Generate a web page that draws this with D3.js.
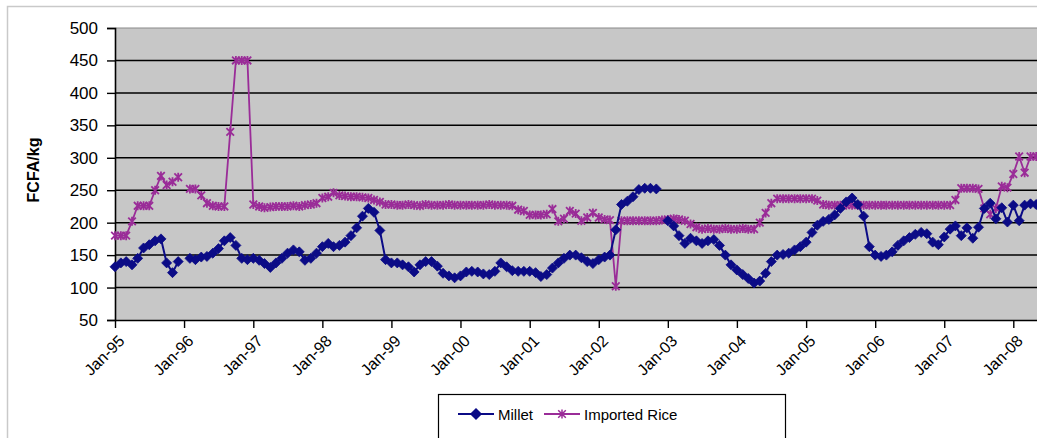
<!DOCTYPE html>
<html>
<head>
<meta charset="utf-8">
<script src="https://cdn.jsdelivr.net/npm/d3@7"></script>
<style>
  html, body { margin: 0; padding: 0; background: #fff; }
  svg { display: block; font-family: "Liberation Sans", Arial, sans-serif; }
</style>
</head>
<body>
<svg id="chart" width="1037" height="438"></svg>
<script>
// Monthly retail prices (FCFA/kg), starting January 1995; null = no observation
const firstYear = 1995;
const milletPrices = [
  132, 138, 140, 135, 145, 161, 166, 172, 175, 138, 123, 140,
  null, 145, 143, 147, 148, 153, 160, 172, 177, 165, 145, 143,
  145, 142, 137, 131, 138, 145, 153, 158, 155, 142, 145, 153,
  163, 168, 163, 165, 170, 180, 192, 210, 222, 216, 188, 143,
  138, 138, 135, 132, 124, 135, 140, 140, 133, 122, 118, 115,
  118, 124, 125, 124, 121, 120, 125, 138, 132, 126, 125, 125,
  125, 123, 117, 120, 130, 138, 145, 150, 150, 146, 140, 137,
  143, 147, 150, 189, 228, 233, 240, 251, 253, 253, 252, null,
  203, 195, 180, 168, 176, 172, 168, 172, 174, 165, 150, 135,
  127, 120, 114, 107, 110, 122, 140, 150, 151, 153, 158, 163,
  170, 185, 196, 202, 205, 212, 222, 232, 238, 228, 210, 163,
  150, 148, 150, 155, 165, 172, 177, 182, 185, 183, 170, 166,
  178, 190, 195, 180, 192, 176, 193, 222, 230, 206, 223, 201,
  227, 203, 227, 229, 228
];
const ricePrices = [
  180, 180, 180, 202, 226, 226, 226, 250, 272, 258, 263, 270,
  null, 252, 252, 242, 230, 226, 225, 225, 340, 450, 450, 450,
  228, 225, 223, 224, 225, 225, 225, 226, 225, 227, 228, 230,
  238, 240, 246, 242, 241, 240, 240, 239, 238, 235, 232, 228,
  228, 227, 227, 228, 227, 226, 228, 227, 227, 227, 228, 227,
  227, 227, 227, 227, 227, 228, 227, 227, 227, 226, 220, 218,
  212, 212, 212, 213, 221, 202, 206, 218, 214, 203, 208, 215,
  208, 205, 204, 102, 203, 203, 203, 203, 203, 203, 203, 204,
  205, 206, 205, 203, 198, 193, 190, 191, 190, 190, 191, 190,
  190, 191, 190, 190, 200, 215, 230, 237, 237, 237, 237, 237,
  237, 237, 234, 228, 227, 227, 227, 227, 227, 227, 227, 227,
  227, 227, 227, 227, 227, 227, 227, 227, 227, 227, 227, 227,
  227, 227, 235, 253, 253, 253, 252, 222, 213, 222, 256, 254,
  275, 302, 277, 302, 302
];
const yTickValues = [50, 100, 150, 200, 250, 300, 350, 400, 450, 500];
const yearTicks = [1995, 1996, 1997, 1998, 1999, 2000, 2001, 2002, 2003, 2004, 2005, 2006, 2007, 2008];
const seriesNames = ["Millet", "Imported Rice"];
const axisTitle = "FCFA/kg";

const milletColor = "#0b0b86";
const riceColor = "#9a2c98";
const font = '"Liberation Sans", Arial, sans-serif';

const svg = d3.select("#chart");
const W = 1037, H = 438;

// chart area frame
svg.append("rect").attr("x", 0).attr("y", 0).attr("width", W).attr("height", H).attr("fill", "#fff");
svg.append("path").attr("d", `M7.5,${H}V6.5H${W}`).attr("fill", "none").attr("stroke", "#c9c9c9").attr("stroke-width", 1.5);

const plot = { left: 115, top: 28, right: 1050, bottom: 320 };

const months = milletPrices.map((_, i) => new Date(firstYear, i, 1));
const x = d3.scaleTime()
  .domain([new Date(1995, 0, 1), new Date(2008, 0, 1)])
  .range([115, 1013.3]);
const y = d3.scaleLinear().domain([50, 500]).range([plot.bottom, plot.top]);

// plot area
svg.append("rect")
  .attr("x", plot.left).attr("y", plot.top)
  .attr("width", plot.right - plot.left).attr("height", plot.bottom - plot.top)
  .attr("fill", "#c7c7c7");

// horizontal gridlines
svg.append("g").selectAll("line")
  .data(yTickValues.filter(v => v > 50 && v < 500))
  .join("line")
  .attr("x1", plot.left).attr("x2", plot.right)
  .attr("y1", d => y(d)).attr("y2", d => y(d))
  .attr("stroke", "#000").attr("stroke-width", 1.5);

// plot area top border
svg.append("line")
  .attr("x1", plot.left).attr("x2", plot.right)
  .attr("y1", plot.top).attr("y2", plot.top)
  .attr("stroke", "#8a8a8a").attr("stroke-width", 1.2);

// y axis
const yAxis = d3.axisLeft(y).tickValues(yTickValues).tickSize(8).tickPadding(9).tickFormat(d3.format("d"));
const gy = svg.append("g").attr("transform", `translate(${plot.left},0)`).call(yAxis);
gy.select(".domain").attr("stroke", "#000").attr("stroke-width", 1.6);
gy.selectAll(".tick line").attr("stroke", "#000").attr("stroke-width", 1.4);
gy.selectAll(".tick text").attr("fill", "#000").style("font-size", "17px").style("font-family", font);

// x axis
const xAxis = d3.axisBottom(x)
  .tickValues(yearTicks.map(yr => new Date(yr, 0, 1)))
  .tickSize(8)
  .tickFormat(d3.timeFormat("%b-%y"));
const gx = svg.append("g").attr("transform", `translate(0,${plot.bottom})`).call(xAxis);
gx.select(".domain").attr("d", `M${plot.left},0.5H${plot.right}`).attr("stroke", "#000").attr("stroke-width", 1.6);
gx.selectAll(".tick line").attr("stroke", "#000").attr("stroke-width", 1.4);
gx.selectAll(".tick text")
  .attr("fill", "#000")
  .style("font-size", "16px")
  .style("font-family", font)
  .attr("text-anchor", "end")
  .attr("dy", null)
  .attr("y", 0)
  .attr("transform", "translate(10,22) rotate(-45)");

// y axis title
svg.append("text")
  .attr("transform", "translate(39,170) rotate(-90)")
  .attr("text-anchor", "middle")
  .style("font-size", "16px")
  .style("font-weight", "bold")
  .style("font-family", font)
  .attr("fill", "#000")
  .text(axisTitle);

// series
svg.append("clipPath").attr("id", "plotclip")
  .append("rect").attr("x", plot.left - 6).attr("y", plot.top - 8)
  .attr("width", plot.right - plot.left + 12).attr("height", plot.bottom - plot.top + 12);

const line = d3.line()
  .defined(d => d.v != null)
  .x(d => x(d.date))
  .y(d => y(d.v));

const milletData = milletPrices.map((v, i) => ({ date: months[i], v }));
const riceData = ricePrices.map((v, i) => ({ date: months[i], v }));

const diamond = "M0,-5L5,0L0,5L-5,0Z";
const star = "M-3.8,-3.8L3.8,3.8M-3.8,3.8L3.8,-3.8M0,-4.5V4.5";

const series = svg.append("g").attr("clip-path", "url(#plotclip)");

// rice drawn first, millet on top
series.append("path").datum(riceData)
  .attr("d", line).attr("fill", "none").attr("stroke", riceColor).attr("stroke-width", 1.8);
series.append("g").selectAll("path")
  .data(riceData.filter(d => d.v != null))
  .join("path")
  .attr("transform", d => `translate(${x(d.date)},${y(d.v)})`)
  .attr("d", star).attr("fill", "none").attr("stroke", riceColor).attr("stroke-width", 1.8);

series.append("path").datum(milletData)
  .attr("d", line).attr("fill", "none").attr("stroke", milletColor).attr("stroke-width", 2);
series.append("g").selectAll("path")
  .data(milletData.filter(d => d.v != null))
  .join("path")
  .attr("transform", d => `translate(${x(d.date)},${y(d.v)})`)
  .attr("d", diamond).attr("fill", milletColor).attr("stroke", milletColor).attr("stroke-width", 0.8);

// legend
const lg = svg.append("g").attr("transform", "translate(438,394)");
lg.append("rect").attr("x", 0.5).attr("y", 0.5).attr("width", 347).attr("height", 70)
  .attr("fill", "#fff").attr("stroke", "#000").attr("stroke-width", 1.2);
const items = [
  { name: seriesNames[0], color: milletColor, marker: diamond, fill: milletColor, x0: 20 },
  { name: seriesNames[1], color: riceColor, marker: star, fill: "none", x0: 106 }
];
items.forEach(it => {
  const g = lg.append("g").attr("transform", `translate(${it.x0},20)`);
  g.append("line").attr("x1", 0).attr("x2", 36).attr("y1", 0).attr("y2", 0)
    .attr("stroke", it.color).attr("stroke-width", 2);
  g.append("path").attr("transform", "translate(18,0)").attr("d", it.marker)
    .attr("fill", it.fill).attr("stroke", it.color).attr("stroke-width", 1.5);
  g.append("text").attr("x", 40).attr("y", 5.5)
    .style("font-size", "15px")
    .style("font-family", font)
    .attr("fill", "#000").text(it.name);
});
</script>
</body>
</html>
